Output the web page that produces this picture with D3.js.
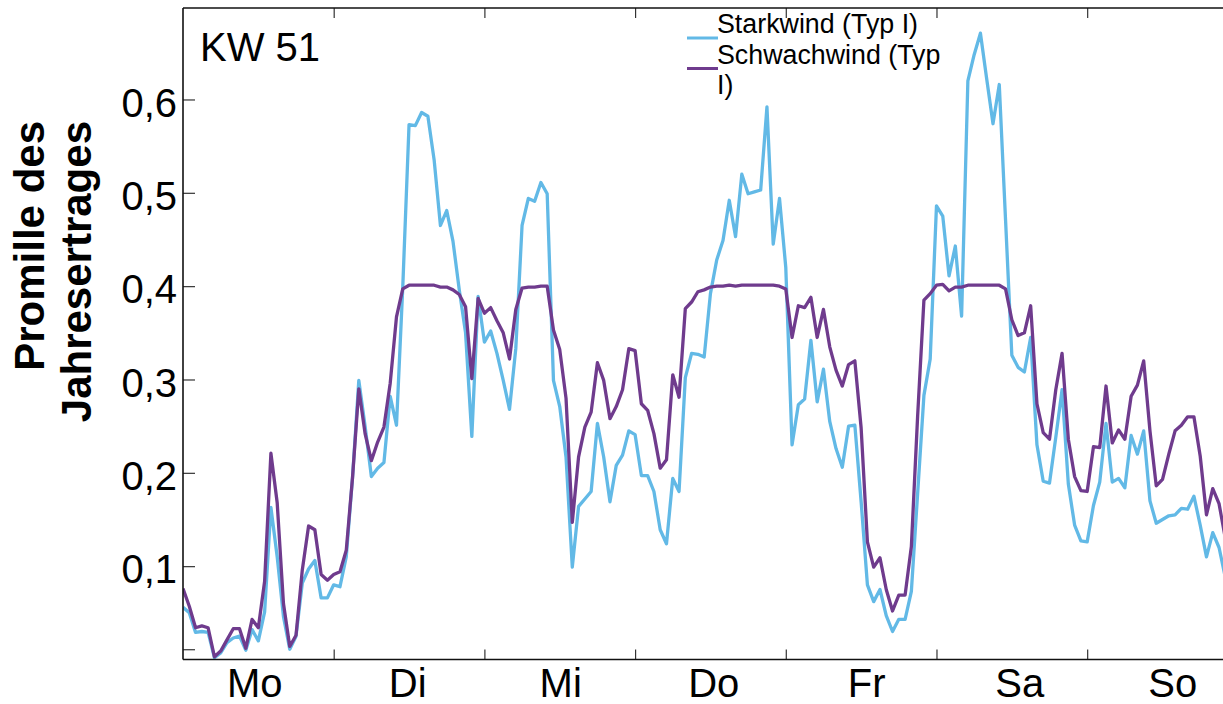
<!DOCTYPE html>
<html>
<head>
<meta charset="utf-8">
<script src="https://cdn.jsdelivr.net/npm/d3@7/dist/d3.min.js"></script>
<style>
  html, body { margin: 0; padding: 0; background: #fff; }
  svg { display: block; }
  text { font-family: "Liberation Sans", Arial, Helvetica, sans-serif; fill: #000; }
</style>
</head>
<body>
<svg id="chart" width="1223" height="704"></svg>
<script>
// Hourly yield for calendar week 51, in per mille of the annual yield
const weekLabel = "KW 51";
const dayLabels = ["Mo", "Di", "Mi", "Do", "Fr", "Sa", "So"];
const seriesNames = ["Starkwind (Typ I)", "Schwachwind (Typ I)"];
const seriesColors = ["#62b9e6", "#6f3b8d"];
const yTickValues = [0.1, 0.2, 0.3, 0.4, 0.5, 0.6];
const yMinorTick = [0.011];
const dayTickHours = [24, 48, 72, 96, 120, 144];
const hoursInWeek = 168;

const starkwind = [
  0.056, 0.050, 0.029, 0.030, 0.029, 0.002, 0.007, 0.018, 0.023, 0.025, 0.010, 0.032,
  0.020, 0.051, 0.163, 0.110, 0.046, 0.011, 0.025, 0.082, 0.097, 0.106, 0.066, 0.066,
  0.080, 0.078, 0.110, 0.195, 0.299, 0.250, 0.196, 0.205, 0.211, 0.282, 0.251, 0.399,
  0.573, 0.572, 0.586, 0.582, 0.535, 0.465, 0.481, 0.448, 0.396, 0.350, 0.239, 0.389,
  0.340, 0.352, 0.328, 0.299, 0.268, 0.333, 0.465, 0.494, 0.491, 0.511, 0.499, 0.299,
  0.271, 0.217, 0.099, 0.164, 0.172, 0.180, 0.253, 0.217, 0.169, 0.208, 0.219, 0.245,
  0.241, 0.197, 0.197, 0.180, 0.139, 0.124, 0.194, 0.180, 0.302, 0.328, 0.327, 0.324,
  0.392, 0.428, 0.449, 0.492, 0.453, 0.520, 0.499, 0.501, 0.503, 0.592, 0.445, 0.494,
  0.420, 0.230, 0.273, 0.279, 0.342, 0.276, 0.311, 0.255, 0.226, 0.206, 0.250, 0.251,
  0.169, 0.080, 0.062, 0.075, 0.047, 0.030, 0.043, 0.043, 0.073, 0.178, 0.283, 0.322,
  0.486, 0.475, 0.411, 0.443, 0.368, 0.620, 0.648, 0.671, 0.622, 0.574, 0.616, 0.471,
  0.326, 0.313, 0.308, 0.345, 0.230, 0.191, 0.189, 0.238, 0.289, 0.188, 0.144, 0.127,
  0.126, 0.165, 0.190, 0.253, 0.190, 0.194, 0.184, 0.240, 0.220, 0.245, 0.170, 0.146,
  0.150, 0.154, 0.155, 0.162, 0.161, 0.175, 0.144, 0.110, 0.136, 0.120, 0.088
];

const schwachwind = [
  0.076, 0.057, 0.034, 0.036, 0.034, 0.003, 0.009, 0.021, 0.033, 0.033, 0.012, 0.043,
  0.034, 0.084, 0.221, 0.168, 0.060, 0.014, 0.026, 0.096, 0.143, 0.139, 0.091, 0.085,
  0.091, 0.094, 0.117, 0.195, 0.290, 0.242, 0.213, 0.233, 0.249, 0.296, 0.367, 0.397,
  0.401, 0.401, 0.401, 0.401, 0.401, 0.399, 0.399, 0.396, 0.391, 0.378, 0.301, 0.387,
  0.371, 0.377, 0.363, 0.350, 0.322, 0.375, 0.398, 0.399, 0.399, 0.400, 0.400, 0.353,
  0.332, 0.280, 0.147, 0.217, 0.249, 0.265, 0.318, 0.299, 0.258, 0.271, 0.289, 0.333,
  0.331, 0.274, 0.267, 0.242, 0.205, 0.214, 0.305, 0.281, 0.376, 0.383, 0.394, 0.396,
  0.399, 0.400, 0.400, 0.401, 0.400, 0.401, 0.401, 0.401, 0.401, 0.401, 0.401, 0.400,
  0.397, 0.345, 0.379, 0.377, 0.388, 0.345, 0.375, 0.335, 0.310, 0.293, 0.316, 0.320,
  0.248, 0.126, 0.099, 0.109, 0.075, 0.052, 0.069, 0.069, 0.121, 0.261, 0.385, 0.392,
  0.401, 0.402, 0.395, 0.399, 0.399, 0.401, 0.401, 0.401, 0.401, 0.401, 0.401, 0.397,
  0.364, 0.347, 0.350, 0.379, 0.274, 0.243, 0.236, 0.289, 0.328, 0.236, 0.196, 0.181,
  0.180, 0.228, 0.227, 0.293, 0.232, 0.246, 0.236, 0.282, 0.294, 0.320, 0.245, 0.186,
  0.193, 0.220, 0.245, 0.251, 0.260, 0.260, 0.218, 0.155, 0.183, 0.167, 0.130
];

const series = [starkwind, schwachwind];

const svg = d3.select("#chart");
const W = +svg.attr("width");

// plot frame: left edge at the y axis, the week runs past the right border
const plotLeft = 183, plotTop = 8, plotBottom = 659.5;
const hourWidth = 6.279;

const x = d3.scaleLinear().domain([0, hoursInWeek]).range([plotLeft, plotLeft + hoursInWeek * hourWidth]);
const y = d3.scaleLinear().domain([0, 0.698]).range([plotBottom, plotTop]);
const dayPos = d3.scalePoint().domain(dayLabels).range([254.7, 1172.7]);

svg.append("rect").attr("width", W).attr("height", 704).attr("fill", "#fff");

svg.append("defs").append("clipPath").attr("id", "plotClip")
  .append("rect").attr("x", plotLeft).attr("y", plotTop)
  .attr("width", W - plotLeft).attr("height", plotBottom - plotTop);

// series lines
const line = d3.line().x((d, i) => x(i)).y(d => y(d));
const plot = svg.append("g").attr("clip-path", "url(#plotClip)");
series.forEach((vals, k) => {
  plot.append("path")
    .datum(vals)
    .attr("fill", "none")
    .attr("stroke", seriesColors[k])
    .attr("stroke-width", 3.3)
    .attr("stroke-linejoin", "round")
    .attr("d", line);
});

const fmt = d => yMinorTick.includes(d) ? "" : d3.format(".1f")(d).replace(".", ",");

// left axis with inward ticks
const yAxis = svg.append("g")
  .attr("transform", `translate(${plotLeft},0)`)
  .call(d3.axisLeft(y).tickValues(yMinorTick.concat(yTickValues)).tickSize(-12).tickPadding(6).tickFormat(fmt));
yAxis.select(".domain").remove();
yAxis.selectAll(".tick line").attr("stroke", "#333").attr("stroke-width", 1.2);
yAxis.selectAll(".tick text").attr("font-size", 40).attr("dy", "0.42em")
  .style("font-family", '"Liberation Sans", Arial, sans-serif');

// bottom and top axes carry the day boundaries
const xBottom = svg.append("g")
  .attr("transform", `translate(0,${plotBottom})`)
  .call(d3.axisBottom(x).tickValues(dayTickHours).tickSize(-10).tickFormat(""));
xBottom.select(".domain").remove();
xBottom.selectAll(".tick line").attr("stroke", "#333").attr("stroke-width", 1.2);

const xTop = svg.append("g")
  .attr("transform", `translate(0,${plotTop})`)
  .call(d3.axisTop(x).tickValues(dayTickHours).tickSize(-10).tickFormat(""));
xTop.select(".domain").remove();
xTop.selectAll(".tick line").attr("stroke", "#333").attr("stroke-width", 1.2);

// frame lines
svg.append("line").attr("x1", plotLeft).attr("x2", W).attr("y1", plotBottom).attr("y2", plotBottom)
  .attr("stroke", "#111").attr("stroke-width", 1.6);
svg.append("line").attr("x1", plotLeft).attr("x2", W).attr("y1", plotTop).attr("y2", plotTop)
  .attr("stroke", "#111").attr("stroke-width", 1.6);
svg.append("line").attr("x1", plotLeft).attr("x2", plotLeft).attr("y1", plotTop).attr("y2", plotBottom)
  .attr("stroke", "#111").attr("stroke-width", 1.6);

// day names
svg.append("g").selectAll("text")
  .data(dayLabels)
  .join("text")
  .attr("x", d => dayPos(d))
  .attr("y", 697)
  .attr("text-anchor", "middle")
  .attr("font-size", 40)
  .text(d => d);

// week label inside the frame
svg.append("text").attr("x", 200).attr("y", 61).attr("font-size", 40).text(weekLabel);

// y axis title, two lines
const yTitle = ["Promille des", "Jahresertrages"];
yTitle.forEach((t, i) => {
  svg.append("text")
    .attr("transform", `translate(${44 + i * 47},121) rotate(-90)`)
    .attr("text-anchor", "end")
    .attr("font-size", 42)
    .attr("font-weight", "bold")
    .text(t);
});

// legend
const legend = svg.append("g");
const legX = 687, legLine = 30, legFont = 26.8, wrapWidth = 235;
let baseline = 33;
seriesNames.forEach((name, k) => {
  legend.append("line")
    .attr("x1", legX).attr("x2", legX + legLine + 1)
    .attr("y1", baseline + 5).attr("y2", baseline + 5)
    .attr("stroke", seriesColors[k]).attr("stroke-width", 3);
  const txt = legend.append("text").attr("x", legX + legLine).attr("y", baseline).attr("font-size", legFont).text(name);
  if (txt.node().getComputedTextLength() > wrapWidth) {
    const cut = name.lastIndexOf(" ");
    txt.text(null);
    txt.append("tspan").attr("x", legX + legLine).attr("y", baseline).text(name.slice(0, cut));
    baseline += 30.5;
    txt.append("tspan").attr("x", legX + legLine).attr("y", baseline).text(name.slice(cut + 1));
  }
  baseline += 30.5;
});
</script>
</body>
</html>
